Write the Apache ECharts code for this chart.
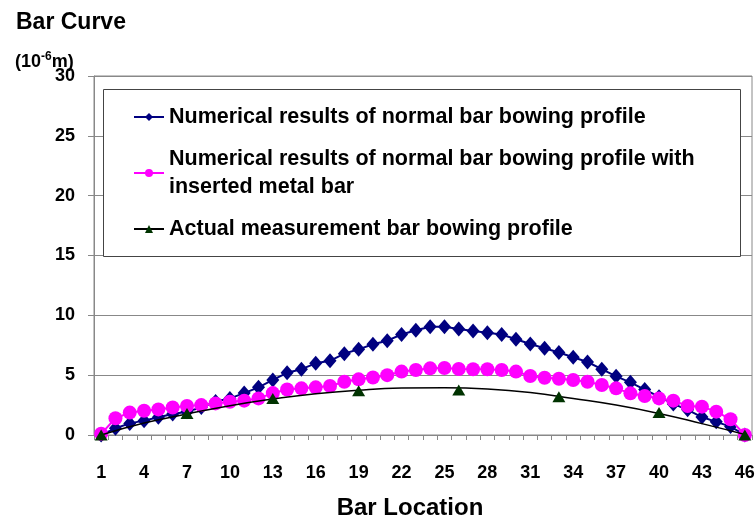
<!DOCTYPE html>
<html>
<head>
<meta charset="utf-8">
<script src="https://cdn.jsdelivr.net/npm/echarts@6/dist/echarts.min.js"></script>
<style>
html, body { margin: 0; padding: 0; background: #fff; }
#main { width: 756px; height: 520px; }
</style>
</head>
<body>
<div id="main"></div>
<script>
var dom = document.getElementById('main');
var myChart = echarts.init(dom, null, { renderer: 'canvas' });

var barLocations = ['1','2','3','4','5','6','7','8','9','10','11','12','13','14','15','16','17','18','19','20','21','22','23',
    '24','25','26','27','28','29','30','31','32','33','34','35','36','37','38','39','40','41','42','43','44','45','46'];
// numerical results, normal bar
var normalData = [0, 0.56, 0.97, 1.2, 1.48, 1.75, 1.95, 2.3, 2.8, 3.06, 3.5, 3.98, 4.6, 5.2, 5.5, 5.99, 6.2, 6.8, 7.16, 7.58, 7.88, 8.4, 8.75,
    9.05, 9.05, 8.85, 8.7, 8.55, 8.4, 8.0, 7.6, 7.25, 6.9, 6.5, 6.1, 5.5, 4.9, 4.4, 3.8, 3.2, 2.6, 2.1, 1.5, 1.1, 0.7, 0];
// numerical results, with inserted metal bar
var metalData = [0.1, 1.4, 1.87, 2.03, 2.14, 2.3, 2.42, 2.5, 2.64, 2.78, 2.87, 3.06, 3.5, 3.8, 3.9, 3.98, 4.1, 4.45, 4.65, 4.8, 5.0, 5.3, 5.43,
    5.57, 5.6, 5.51, 5.49, 5.49, 5.43, 5.3, 4.93, 4.79, 4.7, 4.6, 4.45, 4.18, 3.9, 3.48, 3.26, 3.06, 2.87, 2.42, 2.37, 1.95, 1.31, 0];
// actual measurement (only some bars measured)
var measuredData = [0, null, null, null, null, null, 1.8, null, null, null, null, null, 3.06, null, null, null, null, null, 3.7, null, null, null, null,
    null, null, 3.76, null, null, null, null, null, null, 3.2, null, null, null, null, null, null, 1.87, null, null, null, null, null, 0];
// black trend curve
var trendData = [0, null, null, 1.0, null, null, 1.75, null, null, 2.45, null, null, 3.0, null, null, 3.45, null, null, 3.75, null, null, 3.92, null,
    null, 3.95, null, null, 3.85, null, null, 3.55, null, null, 3.05, null, null, 2.5, null, null, 1.8, null, null, 0.95, null, null, 0.05];
var yTicks = [0, 5, 10, 15, 20, 25, 30];

var seriesNames = [
    'Numerical results of normal bar bowing profile',
    'Numerical results of normal bar bowing profile with\ninserted metal bar',
    'Actual measurement bar bowing profile'
];

var fontFamily = '"Liberation Sans", Arial, sans-serif';
var option;

option = {
    animation: false,
    backgroundColor: '#fff',
    textStyle: { fontFamily: fontFamily },
    title: [
        {
            text: 'Bar Curve',
            left: 11,
            top: 6,
            textStyle: { color: '#000', fontSize: 23, fontWeight: 'bold', fontFamily: fontFamily }
        },
        {
            text: '{b|(10}{s|-6}{b|m)}',
            left: 10,
            top: 46,
            textStyle: {
                rich: {
                    b: { color: '#000', fontSize: 18, fontWeight: 'bold', fontFamily: fontFamily, verticalAlign: 'bottom', lineHeight: 20 },
                    s: { color: '#000', fontSize: 12, fontWeight: 'bold', fontFamily: fontFamily, verticalAlign: 'top', lineHeight: 20, padding: [0, 0, 9, 0] }
                }
            }
        }
    ],
    graphic: [
        {
            type: 'rect',
            z: 3,
            shape: { x: 103.5, y: 89.5, width: 637, height: 167 },
            style: { fill: '#fff', stroke: '#444', lineWidth: 1 }
        }
    ],
    legend: {
        data: [
            { name: seriesNames[0] },
            { name: seriesNames[1] },
            { name: seriesNames[2], lineStyle: { color: '#000', width: 2, opacity: 1 } }
        ],
        orient: 'vertical',
        left: 133,
        top: 103,
        padding: 0,
        itemGap: 14,
        itemWidth: 30,
        itemHeight: 10,
        z: 5,
        textStyle: { color: '#000', fontSize: 21.5, fontWeight: 'bold', fontFamily: fontFamily, lineHeight: 28 }
    },
    grid: {
        left: 94,
        right: 4,
        top: 76,
        bottom: 85,
        containLabel: false,
        outerBoundsMode: 'none',
        show: true,
        borderColor: '#888',
        borderWidth: 1
    },
    xAxis: {
        type: 'category',
        data: barLocations,
        boundaryGap: true,
        name: 'Bar Location',
        nameLocation: 'middle',
        nameGap: 61,
        nameTextStyle: { color: '#000', fontSize: 24, fontWeight: 'bold', fontFamily: fontFamily, padding: [0, 26, 0, 0] },
        axisLine: { lineStyle: { color: '#888', width: 1 } },
        axisTick: { show: true, interval: 0, length: 5, lineStyle: { color: '#888' } },
        axisLabel: {
            interval: 2,
            margin: 29,
            color: '#000',
            fontSize: 18,
            fontWeight: 'bold',
            fontFamily: fontFamily
        },
        splitLine: { show: false }
    },
    yAxis: {
        type: 'value',
        min: yTicks[0],
        max: yTicks[yTicks.length - 1],
        interval: 5,
        axisLine: { show: true, lineStyle: { color: '#888', width: 1 } },
        axisTick: { show: true, length: 6, lineStyle: { color: '#888' } },
        axisLabel: {
            margin: 19,
            color: '#000',
            fontSize: 18,
            fontWeight: 'bold',
            fontFamily: fontFamily
        },
        splitLine: { show: true, lineStyle: { color: '#888', width: 1 } }
    },
    series: [
        {
            name: seriesNames[0],
            type: 'line',
            data: normalData,
            showAllSymbol: true,
            symbol: 'diamond',
            symbolSize: [13, 15],
            color: '#000080',
            lineStyle: { color: '#000080', width: 2 },
            itemStyle: { color: '#000080' },
            z: 2
        },
        {
            name: seriesNames[1],
            type: 'line',
            data: metalData,
            showAllSymbol: true,
            symbol: 'circle',
            symbolSize: 14,
            color: '#ff00ff',
            lineStyle: { color: '#ff00ff', width: 2 },
            itemStyle: { color: '#ff00ff' },
            z: 3
        },
        {
            name: 'trend',
            type: 'line',
            data: trendData,
            smooth: true,
            connectNulls: true,
            showSymbol: false,
            symbol: 'none',
            lineStyle: { color: '#000', width: 1.5 },
            itemStyle: { color: '#000' },
            z: 4
        },
        {
            name: seriesNames[2],
            type: 'line',
            data: measuredData,
            connectNulls: true,
            showAllSymbol: true,
            symbol: 'triangle',
            symbolSize: [13, 11],
            color: '#003300',
            lineStyle: { width: 0, opacity: 0 },
            itemStyle: { color: '#003300' },
            z: 5
        }
    ]
};

if (option && typeof option === 'object') {
    myChart.setOption(option);
}
window.addEventListener('resize', myChart.resize);
</script>
</body>
</html>
